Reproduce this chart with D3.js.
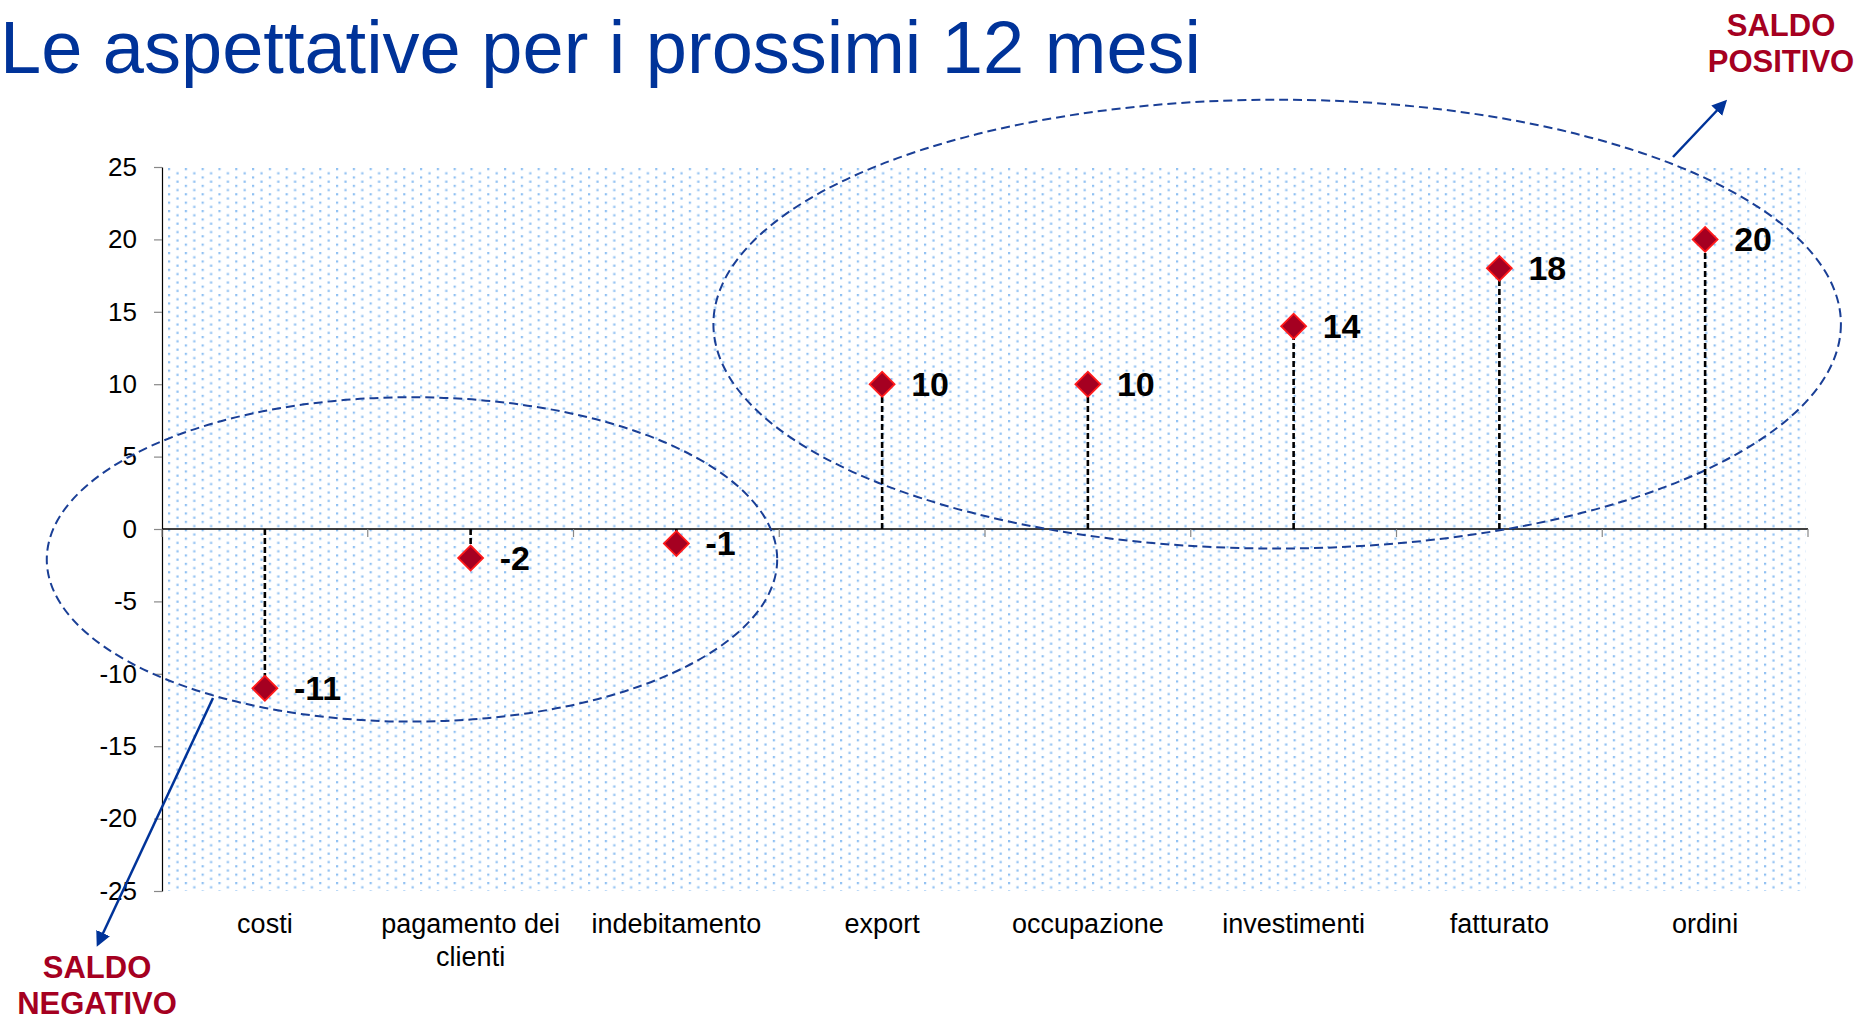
<!DOCTYPE html>
<html>
<head>
<meta charset="utf-8">
<script src="https://cdn.jsdelivr.net/npm/d3@7"></script>
<style>
  body { margin: 0; background: #fff; }
  svg { display: block; font-family: "Liberation Sans", Arial, sans-serif; }
</style>
</head>
<body>
<div id="chart"></div>
<script>
// data
const categories = ["costi", "pagamento dei clienti", "indebitamento", "export", "occupazione", "investimenti", "fatturato", "ordini"]
const catLines = [["costi"], ["pagamento dei", "clienti"], ["indebitamento"], ["export"], ["occupazione"], ["investimenti"], ["fatturato"], ["ordini"]]
const values = [-11, -2, -1, 10, 10, 14, 18, 20]
const yTicks = [-25, -20, -15, -10, -5, 0, 5, 10, 15, 20, 25]
const titleText = "Le aspettative per i prossimi 12 mesi"

const w = 1874
const h = 1024
const plotL = 162, plotR = 1808, plotT = 167, plotB = 891

const svg = d3.select("#chart").append("svg")
  .attr("width", w)
  .attr("height", h)

const xScale = d3.scaleBand().domain(categories).range([plotL, plotR]).padding(0)
const yScale = d3.scaleLinear().domain([-25, 25]).range([plotB, plotT])
const bw = xScale.bandwidth()
const cx = c => xScale(c) + bw / 2

// dotted fill of the plot area
const defs = svg.append("defs")
const pat = defs.append("pattern")
  .attr("id", "dots")
  .attr("patternUnits", "userSpaceOnUse")
  .attr("width", 16.8).attr("height", 8.4)
pat.append("rect").attr("x", 0).attr("y", 0).attr("width", 2.2).attr("height", 2.2).attr("fill", "#8fc0f2")
pat.append("rect").attr("x", 8.4).attr("y", 4.2).attr("width", 2.2).attr("height", 2.2).attr("fill", "#8fc0f2")

svg.append("rect")
  .attr("x", plotL + 2).attr("y", plotT)
  .attr("width", plotR - plotL - 4).attr("height", plotB - plotT)
  .attr("fill", "url(#dots)")

// title
svg.append("text")
  .attr("x", 0).attr("y", 73)
  .attr("font-size", 74)
  .attr("fill", "#003399")
  .text(titleText)

// y axis (plain hyphen for negatives, like the original)
const yAxis = d3.axisLeft(yScale).tickValues(yTicks).tickFormat(d => String(d))
  .tickSize(8).tickSizeOuter(0).tickPadding(17)
const gy = svg.append("g")
  .attr("transform", "translate(" + plotL + ",0)")
  .call(yAxis)
gy.select(".domain").attr("stroke", "#000").attr("stroke-width", 1.2)
gy.selectAll(".tick line").attr("stroke", "#888").attr("stroke-width", 1.2)
gy.selectAll(".tick text")
  .attr("font-size", 26)
  .attr("fill", "#000")
  .attr("font-family", "Liberation Sans, Arial, sans-serif")

// x axis line at zero, with ticks on band boundaries
const y0 = yScale(0)
svg.append("line")
  .attr("x1", plotL).attr("x2", plotR)
  .attr("y1", y0).attr("y2", y0)
  .attr("stroke", "#000").attr("stroke-width", 1.5)
const bounds = categories.map(c => xScale(c)).concat([plotR])
svg.selectAll(".xtick")
  .data(bounds)
  .enter().append("line")
  .attr("class", "xtick")
  .attr("x1", d => d).attr("x2", d => d)
  .attr("y1", y0).attr("y2", y0 + 8)
  .attr("stroke", "#888").attr("stroke-width", 1.2)

// category labels
const lab = svg.selectAll(".cat")
  .data(categories)
  .enter().append("text")
  .attr("class", "cat")
  .attr("text-anchor", "middle")
  .attr("font-size", 27)
  .attr("fill", "#000")
lab.each(function(c, i) {
  d3.select(this).selectAll("tspan")
    .data(catLines[i])
    .enter().append("tspan")
    .attr("x", cx(c))
    .attr("y", (d, j) => 933 + j * 33)
    .text(d => d)
})

// ellipses (annotation), given in band / value units
const ellipses = [
  { band: 1.215, val: -2.1, rBand: 1.775, rVal: 11.2 },
  { band: 5.42, val: 14.15, rBand: 2.74, rVal: 15.5 }
]
const yPerUnit = yScale(0) - yScale(1)
svg.selectAll(".ell")
  .data(ellipses)
  .enter().append("ellipse")
  .attr("class", "ell")
  .attr("cx", d => plotL + d.band * bw)
  .attr("cy", d => yScale(d.val))
  .attr("rx", d => d.rBand * bw)
  .attr("ry", d => d.rVal * yPerUnit)
  .attr("fill", "none")
  .attr("stroke", "#1a3f96")
  .attr("stroke-width", 2)
  .attr("stroke-dasharray", "9,5")

// stems
const pts = categories.map((c, i) => ({ c: c, v: values[i] }))
svg.selectAll(".stem")
  .data(pts)
  .enter().append("line")
  .attr("class", "stem")
  .attr("x1", d => cx(d.c)).attr("x2", d => cx(d.c))
  .attr("y1", y0).attr("y2", d => yScale(d.v))
  .attr("stroke", "#000").attr("stroke-width", 2.6)
  .attr("stroke-dasharray", "6,3")

// diamonds
const diamond = d3.symbol().type(d3.symbolSquare).size(310)
svg.selectAll(".pt")
  .data(pts)
  .enter().append("path")
  .attr("class", "pt")
  .attr("d", diamond)
  .attr("transform", d => "translate(" + cx(d.c) + "," + yScale(d.v) + ") rotate(45)")
  .attr("fill", "#a50021")
  .attr("stroke", "#ff1a1a")
  .attr("stroke-width", 1.8)

// value labels
svg.selectAll(".val")
  .data(pts)
  .enter().append("text")
  .attr("class", "val")
  .attr("x", d => cx(d.c) + 29)
  .attr("y", d => yScale(d.v) + 12)
  .attr("font-size", 34)
  .attr("font-weight", "bold")
  .attr("fill", "#000")
  .text(d => d.v)

// arrows and notes
defs.append("marker")
  .attr("id", "arr")
  .attr("viewBox", "0 0 10 10")
  .attr("refX", 8).attr("refY", 5)
  .attr("markerWidth", 6).attr("markerHeight", 6)
  .attr("orient", "auto")
  .append("path")
  .attr("d", "M0,0 L10,5 L0,10 Z")
  .attr("fill", "#003399")

const arrows = [
  { x1: 1673, y1: 157, x2: 1725, y2: 102 },
  { x1: 213, y1: 698, x2: 98, y2: 944 }
]
svg.selectAll(".arrow")
  .data(arrows)
  .enter().append("line")
  .attr("class", "arrow")
  .attr("x1", d => d.x1).attr("y1", d => d.y1)
  .attr("x2", d => d.x2).attr("y2", d => d.y2)
  .attr("stroke", "#003399").attr("stroke-width", 2.5)
  .attr("marker-end", "url(#arr)")

const notes = [
  { x: 1781, y: 36, lines: ["SALDO", "POSITIVO"] },
  { x: 97, y: 978, lines: ["SALDO", "NEGATIVO"] }
]
notes.forEach(n => {
  svg.append("text")
    .attr("text-anchor", "middle")
    .attr("font-size", 31)
    .attr("font-weight", "bold")
    .attr("fill", "#a50021")
    .selectAll("tspan")
    .data(n.lines)
    .enter().append("tspan")
    .attr("x", n.x)
    .attr("y", (d, j) => n.y + j * 36)
    .text(d => d)
})
</script>
</body>
</html>
